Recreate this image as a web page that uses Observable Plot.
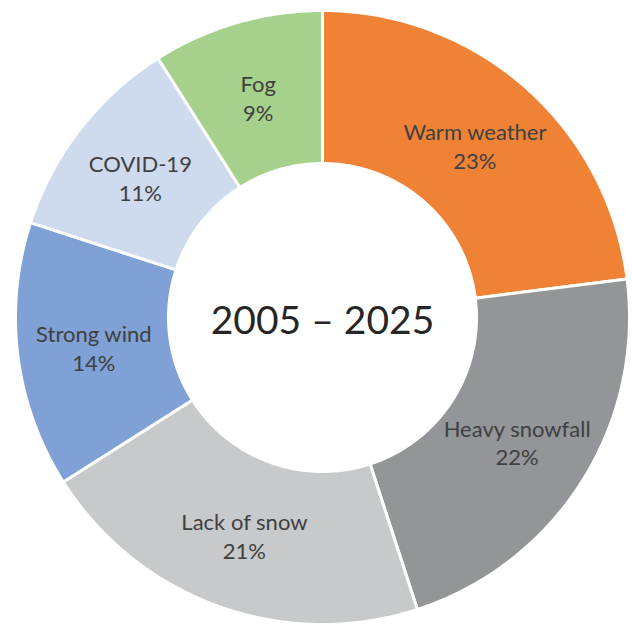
<!DOCTYPE html>
<html>
<head>
<meta charset="utf-8">
<script src="https://cdn.jsdelivr.net/npm/d3@7"></script>
<script src="https://cdn.jsdelivr.net/npm/@observablehq/plot@0.6"></script>
<style>
  html, body { margin: 0; padding: 0; background: #fff; }
  #chart svg { display: block; }
</style>
</head>
<body>
<div id="chart"></div>
<script>
const categories = ["Warm weather", "Heavy snowfall", "Lack of snow", "Strong wind", "COVID-19", "Fog"];
const shares = [23, 22, 21, 14, 11, 9];
const colors = ["#F08236", "#939598", "#C8C9CB", "#7FA1D6", "#CEDBEE", "#A6D18C"];
const centerTitle = "2005 – 2025";

const W = 632, H = 628;
const cx = 322, cy = 317;
const R = 307, r0 = 154;

const total = d3.sum(shares);
let acc = 0;
const slices = categories.map((name, i) => {
  const a0 = acc / total * 2 * Math.PI;
  acc += shares[i];
  const a1 = acc / total * 2 * Math.PI;
  return {name, value: shares[i], color: colors[i], a0, a1};
});

// polygon vertices, angle clockwise from north
const pts = [];
for (const s of slices) {
  const n = Math.max(8, Math.ceil((s.a1 - s.a0) / (Math.PI / 360)));
  for (let k = 0; k <= n; k++) {
    const a = s.a0 + (s.a1 - s.a0) * k / n;
    pts.push({name: s.name, x: R * Math.sin(a), y: R * Math.cos(a)});
  }
  for (let k = n; k >= 0; k--) {
    const a = s.a0 + (s.a1 - s.a0) * k / n;
    pts.push({name: s.name, x: r0 * Math.sin(a), y: r0 * Math.cos(a)});
  }
}

const rm = (R + r0) / 2;
const labels = slices.map(s => {
  const a = (s.a0 + s.a1) / 2;
  return {name: s.name, text: `${s.name}\n${s.value}%`, x: rm * Math.sin(a), y: rm * Math.cos(a)};
});

const chart = Plot.plot({
  width: W,
  height: H,
  margin: 0,
  x: {domain: [-cx, W - cx], axis: null},
  y: {domain: [cy - H, cy], axis: null},
  color: {domain: categories, range: colors},
  style: {fontFamily: "Lato, sans-serif", background: "#fff"},
  marks: [
    Plot.line(pts, {x: "x", y: "y", z: "name", fill: "name", stroke: "white", strokeWidth: 3, curve: "linear-closed"}),
    Plot.text(labels, {x: "x", y: "y", text: "text", fontSize: 22, lineHeight: 1.3, dy: 1, fill: "#404040"}),
    Plot.text([centerTitle], {x: [0], y: [0], text: d => d, fontSize: 39, dy: 4, fill: "#262626"})
  ]
});
document.getElementById("chart").append(chart);
</script>
</body>
</html>
